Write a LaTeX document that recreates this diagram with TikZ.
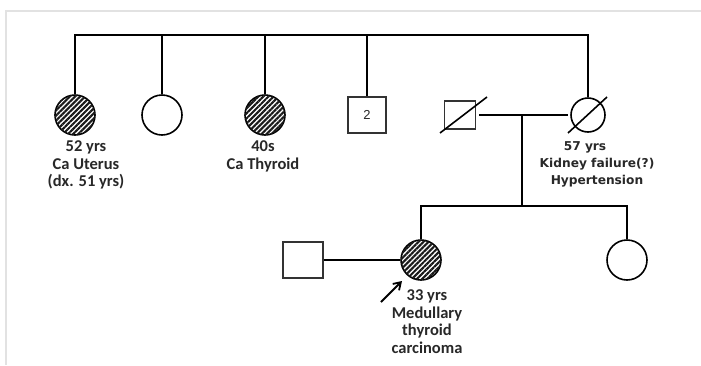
\documentclass[tikz,border=0pt]{standalone}
\usepackage{fontspec}
\setmainfont{Carlito}
\newfontfamily\lsans{Liberation Sans}
\newfontfamily\dvsans{DejaVu Sans}
\usetikzlibrary{patterns.meta,arrows.meta}
\definecolor{txt}{RGB}{40,40,40}
\definecolor{framec}{RGB}{226,226,226}
\tikzset{
  lin/.style={line width=1.9pt,black},
  fem/.style={circle,draw=black,line width=1.6pt,minimum size=40pt,inner sep=0pt,fill=white},
  femsm/.style={circle,draw=black,line width=1.6pt,minimum size=34pt,inner sep=0pt,fill=white},
  aff/.style={fem,fill=none,postaction={pattern={Lines[angle=45,distance=3.6pt,line width=2.1pt]},pattern color=black!90}},
  mal/.style={rectangle,draw=black!80,line width=1.6pt,minimum width=38pt,minimum height=36pt,inner sep=0pt,fill=white},
  lbl/.style={align=center,font=\bfseries\fontsize{16.5}{17.5}\selectfont,text=txt,inner sep=0pt},
  lbla/.style={align=center,font=\dvsans\bfseries\fontsize{12.2}{17}\selectfont,text=txt,inner sep=0pt},
}
\begin{document}
\begin{tikzpicture}[x=1pt,y=-1pt]
\useasboundingbox (0,0) rectangle (701,365);
\draw[framec,line width=1.5pt] (6,365) -- (6,11) -- (701,11);
% generation II
\node[aff] (a1) at (75,115) {};
\node[fem] (a2) at (162,115) {};
\node[aff] (a3) at (265,115) {};
\node[mal,font=\lsans\fontsize{13}{14}\selectfont,text=txt] (a4) at (367,115) {2};
\node[mal,minimum width=31pt,minimum height=28pt] (f) at (460,115) {};
\node[femsm] (m) at (588,115) {};
\draw[line width=1.6pt] (440,133) -- (487,97);
\draw[line width=1.6pt] (568,133) -- (607,97);
\coordinate (t1) at (75,35);
\coordinate (t5) at (588,35);
\draw[lin] (a1.north) -- (t1) -- (t5) -- (m.north);
\draw[lin] (a2.north) -- (a2.north |- t1);
\draw[lin] (a3.north) -- (a3.north |- t1);
\draw[lin] (a4.north) -- (a4.north |- t1);
\draw[lin] (479,115) coordinate (mm1) -- (568,115) coordinate (mm2);
\coordinate (md) at (522,115);
\coordinate (sb) at (522,206);
\draw[lin] (md) -- (sb);
% generation III
\node[aff] (p) at (421,260) {};
\node[fem] (s) at (627,260) {};
\node[mal,minimum width=40pt] (h) at (303,260) {};
\draw[lin] (h.east) -- (p.west);
\draw[lin] (p.north) -- (p.north |- sb) -- (s.north |- sb) -- (s.north);
\draw[line width=1.8pt,-{Straight Barb[length=7pt,width=9pt]}] (381,302) -- (402,281);
% labels
\node[lbl] at (86,165) {52 yrs\\Ca Uterus\\(dx. 51 yrs)};
\node[lbl] at (263,156.5) {40s\\Ca Thyroid};
\node[lbla] at (597,164) {\hspace*{-24pt}57 yrs\\Kidney failure(?)\\Hypertension};
\node[lbl] at (427,321.5) {33 yrs\\Medullary\\thyroid\\carcinoma};
\end{tikzpicture}
\end{document}
